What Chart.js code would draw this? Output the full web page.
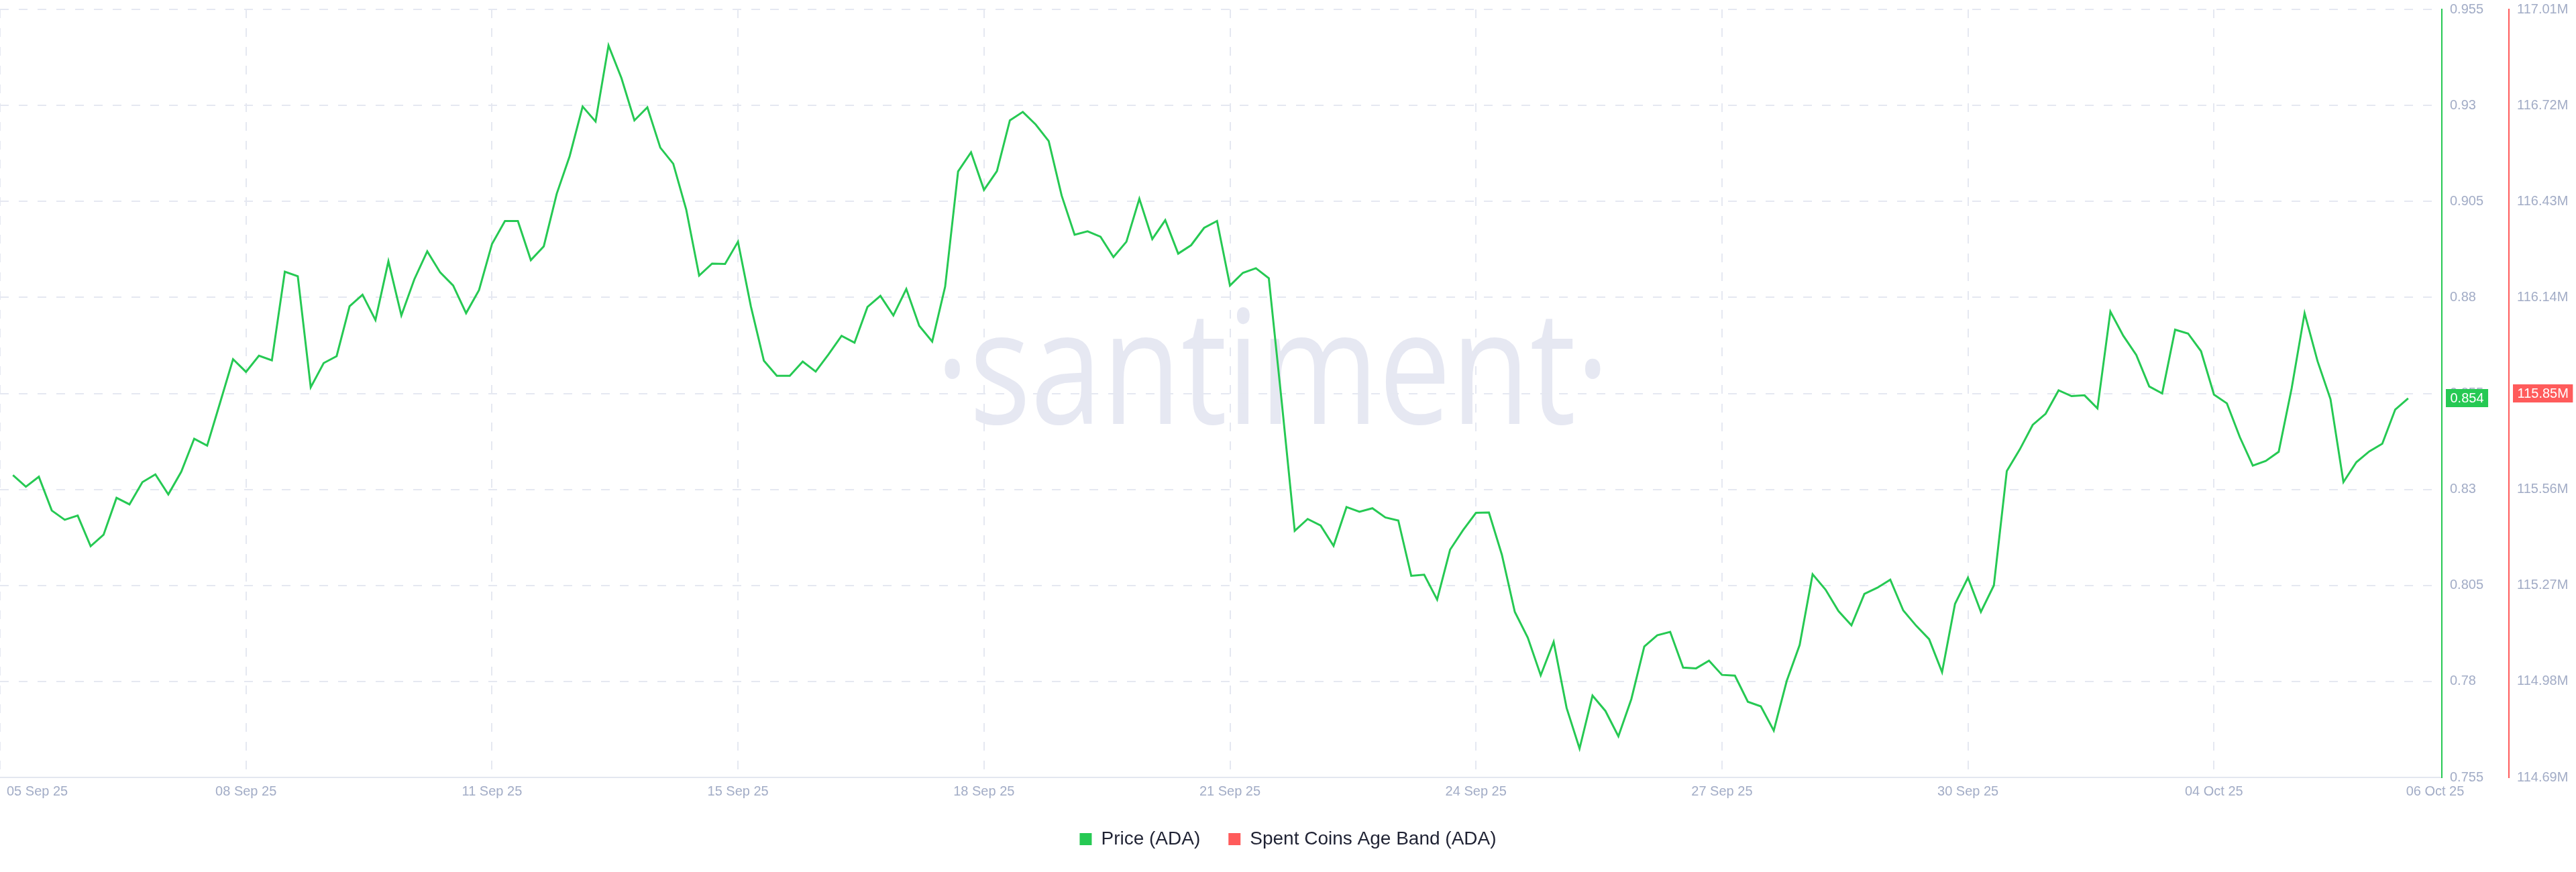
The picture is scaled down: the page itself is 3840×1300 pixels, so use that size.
<!DOCTYPE html>
<html>
<head>
<meta charset="utf-8">
<title>ADA price vs Spent Coins Age Band</title>
<script src="https://cdn.jsdelivr.net/npm/chart.js@4.4.0/dist/chart.umd.min.js"></script>
<style>
  html, body { margin: 0; padding: 0; background: #fff; }
  #wrap { width: 3840px; height: 1300px; }
</style>
</head>
<body>
<div id="wrap"><canvas id="chart" width="3840" height="1300"></canvas></div>
<script>
// ADA price, one value every 4h from 05 Sep 25 to 06 Oct 25
const price = [
  0.8337, 0.8307, 0.8333, 0.8245, 0.8221, 0.8232, 0.8152, 0.8182, 0.8278, 0.8261,
  0.8319, 0.8339, 0.8287, 0.8346, 0.8432, 0.8414, 0.8526, 0.8639, 0.8606, 0.8648,
  0.8636, 0.8867, 0.8855, 0.8566, 0.8629, 0.8647, 0.8777, 0.8807, 0.8741, 0.8894,
  0.8753, 0.8847, 0.8920, 0.8865, 0.8831, 0.8759, 0.8819, 0.8939,
  0.8999, 0.8999, 0.8897, 0.8933, 0.9070, 0.9168, 0.9297, 0.9258, 0.9456, 0.9371,
  0.9261, 0.9295, 0.9190, 0.9148, 0.9029, 0.8857, 0.8888, 0.8887, 0.8945, 0.8776,
  0.8635, 0.8596, 0.8596, 0.8633, 0.8607, 0.8652, 0.8700, 0.8682, 0.8775, 0.8804,
  0.8753, 0.8822, 0.8726, 0.8685, 0.8828, 0.9128, 0.9178,
  0.9080, 0.9129, 0.9261, 0.9283, 0.9250, 0.9207, 0.9065, 0.8963, 0.8972, 0.8958,
  0.8905, 0.8945, 0.9057, 0.8952, 0.9001, 0.8914, 0.8936, 0.8981, 0.8999, 0.8831,
  0.8864, 0.8876, 0.8850, 0.8527, 0.8192, 0.8223, 0.8206, 0.8153, 0.8254, 0.8242,
  0.8251, 0.8227, 0.8219,
  0.8075, 0.8078, 0.8013,
  0.8143, 0.8194, 0.8239, 0.8240, 0.8130, 0.7981, 0.7914, 0.7816, 0.7903, 0.7731,
  0.7625, 0.7763, 0.7723, 0.7657, 0.7754, 0.7891, 0.7920, 0.7929, 0.7836, 0.7834,
  0.7854, 0.7817, 0.7815, 0.7747, 0.7735, 0.7672, 0.7801, 0.7895, 0.8079, 0.8039,
  0.7983, 0.7946, 0.8028, 0.8044, 0.8065, 0.7985, 0.7945, 0.7910, 0.7824,
  0.8002, 0.8070, 0.7981, 0.8050, 0.8348, 0.8404, 0.8468, 0.8497, 0.8558, 0.8543,
  0.8545, 0.8511, 0.8763, 0.8700, 0.8650, 0.8568, 0.8550, 0.8716, 0.8706, 0.8660,
  0.8547, 0.8524, 0.8436, 0.8362, 0.8374, 0.8398, 0.8563, 0.8759, 0.8634, 0.8535,
  0.8319, 0.8371, 0.8399, 0.8419, 0.8508, 0.8537
];

// Spent Coins Age Band: only its last value (in millions) shows on the chart
const spentCoinsLast = 115.85;

// x ticks: index of the 4h step (-1 = 05 Sep 00:00) and their labels
const xTickIdx = [-1, 18, 37, 56, 75, 94, 113, 132, 151, 170];
const xTickLabels = ['05 Sep 25', '08 Sep 25', '11 Sep 25', '15 Sep 25', '18 Sep 25',
                     '21 Sep 25', '24 Sep 25', '27 Sep 25', '30 Sep 25', '04 Oct 25'];
const xEndLabel = '06 Oct 25';

const priceTicks = [0.755, 0.78, 0.805, 0.83, 0.855, 0.88, 0.905, 0.93, 0.955];
const spentTicks = [114.69, 114.98, 115.27, 115.56, 115.85, 116.14, 116.43, 116.72, 117.01];

const GREEN = '#26c953';
const RED = '#ff5b5b';
const TICK = '#a2acc6';
const GRID = '#e5e8f1';
const FONT = '"Liberation Sans", Arial, sans-serif';

// fond blanc + filigrane
const watermark = {
  id: 'watermark',
  beforeDraw(chart) {
    const {ctx} = chart;
    ctx.save();
    ctx.fillStyle = '#fff';
    ctx.fillRect(0, 0, chart.width, chart.height);
    const txt = '\u00B7santiment\u00B7';
    ctx.font = '400 237px "Open Sans"';
    const sx = 1005 / ctx.measureText(txt).width;
    ctx.fillStyle = '#e6e8f2';
    ctx.textAlign = 'center';
    ctx.textBaseline = 'alphabetic';
    ctx.translate(1897, 632);
    ctx.scale(sx, 1);
    ctx.fillText(txt, 0, 0);
    ctx.restore();
  }
};

// dates under the axis
const xLabels = {
  id: 'xLabels',
  afterDraw(chart) {
    const {ctx, chartArea, scales: {x}} = chart;
    ctx.save();
    ctx.font = `20px ${FONT}`;
    ctx.fillStyle = TICK;
    ctx.textBaseline = 'middle';
    const y = chartArea.bottom + 21;
    xTickIdx.forEach((v, i) => {
      const px = x.getPixelForValue(v);
      ctx.textAlign = i === 0 ? 'left' : 'center';
      ctx.fillText(xTickLabels[i], i === 0 ? px + 10 : px, y);
    });
    ctx.textAlign = 'center';
    ctx.fillText(xEndLabel, x.getPixelForValue(x.max) - 10, y);
    ctx.restore();
  }
};

// last-value badges on both axes
function badge(ctx, left, y, text, color) {
  ctx.font = `20px ${FONT}`;
  const w = ctx.measureText(text).width + 13;
  ctx.fillStyle = color;
  ctx.fillRect(left, Math.round(y - 13.5), w, 27);
  ctx.fillStyle = '#fff';
  ctx.textAlign = 'left';
  ctx.textBaseline = 'middle';
  ctx.fillText(text, left + 6.5, y + 1);
}
const lastBadges = {
  id: 'lastBadges',
  afterDraw(chart) {
    const {ctx, scales: {y, y2}} = chart;
    const last = price[price.length - 1];
    ctx.save();
    badge(ctx, y.left + 6, y.getPixelForValue(last), last.toFixed(3), GREEN);
    badge(ctx, y2.left + 6, y2.getPixelForValue(spentCoinsLast), spentCoinsLast.toFixed(2) + 'M', RED);
    ctx.restore();
  }
};

// right axes: fixed width, no extra label padding at the ends
const fitRight = s => { s.width = 100; s.paddingTop = 0; s.paddingBottom = 0; };

new Chart(document.getElementById('chart'), {
  type: 'line',
  data: {
    datasets: [{
      label: 'Price (ADA)',
      data: price.map((v, i) => ({x: i, y: v})),
      borderColor: GREEN,
      backgroundColor: GREEN,
      borderWidth: 3,
      pointRadius: 0,
      tension: 0,
      yAxisID: 'y'
    }, {
      label: 'Spent Coins Age Band (ADA)',
      data: [{x: price.length - 1, y: spentCoinsLast}],
      borderColor: RED,
      backgroundColor: RED,
      borderWidth: 3,
      pointRadius: 0,
      yAxisID: 'y2'
    }]
  },
  options: {
    responsive: false,
    animation: false,
    layout: { padding: { top: 14, left: 0, right: 0, bottom: 25 } },
    plugins: {
      tooltip: { enabled: false },
      legend: {
        position: 'bottom',
        labels: {
          boxWidth: 18, boxHeight: 18, padding: 42,
          color: '#1f2233',
          font: { size: 28, family: FONT },
          generateLabels(chart) {
            const items = Chart.defaults.plugins.legend.labels.generateLabels(chart);
            items.forEach(it => { it.lineWidth = 0; it.fillStyle = it.strokeStyle; });
            return items;
          }
        }
      }
    },
    scales: {
      x: {
        type: 'linear',
        min: -1,
        max: 187.6,
        afterBuildTicks: s => { s.ticks = xTickIdx.map(v => ({value: v})); },
        afterFit: s => { s.height = 36; },
        ticks: { display: false },
        grid: { color: GRID, lineWidth: 2, drawTicks: false },
        border: { display: true, color: '#e3e7f0', width: 2, dash: [13, 15] }
      },
      y: {
        position: 'right',
        min: 0.755,
        max: 0.955,
        afterBuildTicks: s => { s.ticks = priceTicks.map(v => ({value: v})); },
        afterFit: fitRight,
        ticks: { color: TICK, font: { size: 20, family: FONT }, padding: 12, callback: v => `${v}` },
        grid: { color: GRID, lineWidth: 2, drawTicks: false },
        border: { display: true, color: GREEN, width: 2, dash: [13, 15] }
      },
      y2: {
        position: 'right',
        min: 114.69,
        max: 117.01,
        afterBuildTicks: s => { s.ticks = spentTicks.map(v => ({value: v})); },
        afterFit: fitRight,
        ticks: { color: TICK, font: { size: 20, family: FONT }, padding: 12, callback: v => v.toFixed(2) + 'M' },
        grid: { drawOnChartArea: false, drawTicks: false },
        border: { display: true, color: RED, width: 2 }
      }
    }
  },
  plugins: [watermark, xLabels, lastBadges]
});
</script>
</body>
</html>
